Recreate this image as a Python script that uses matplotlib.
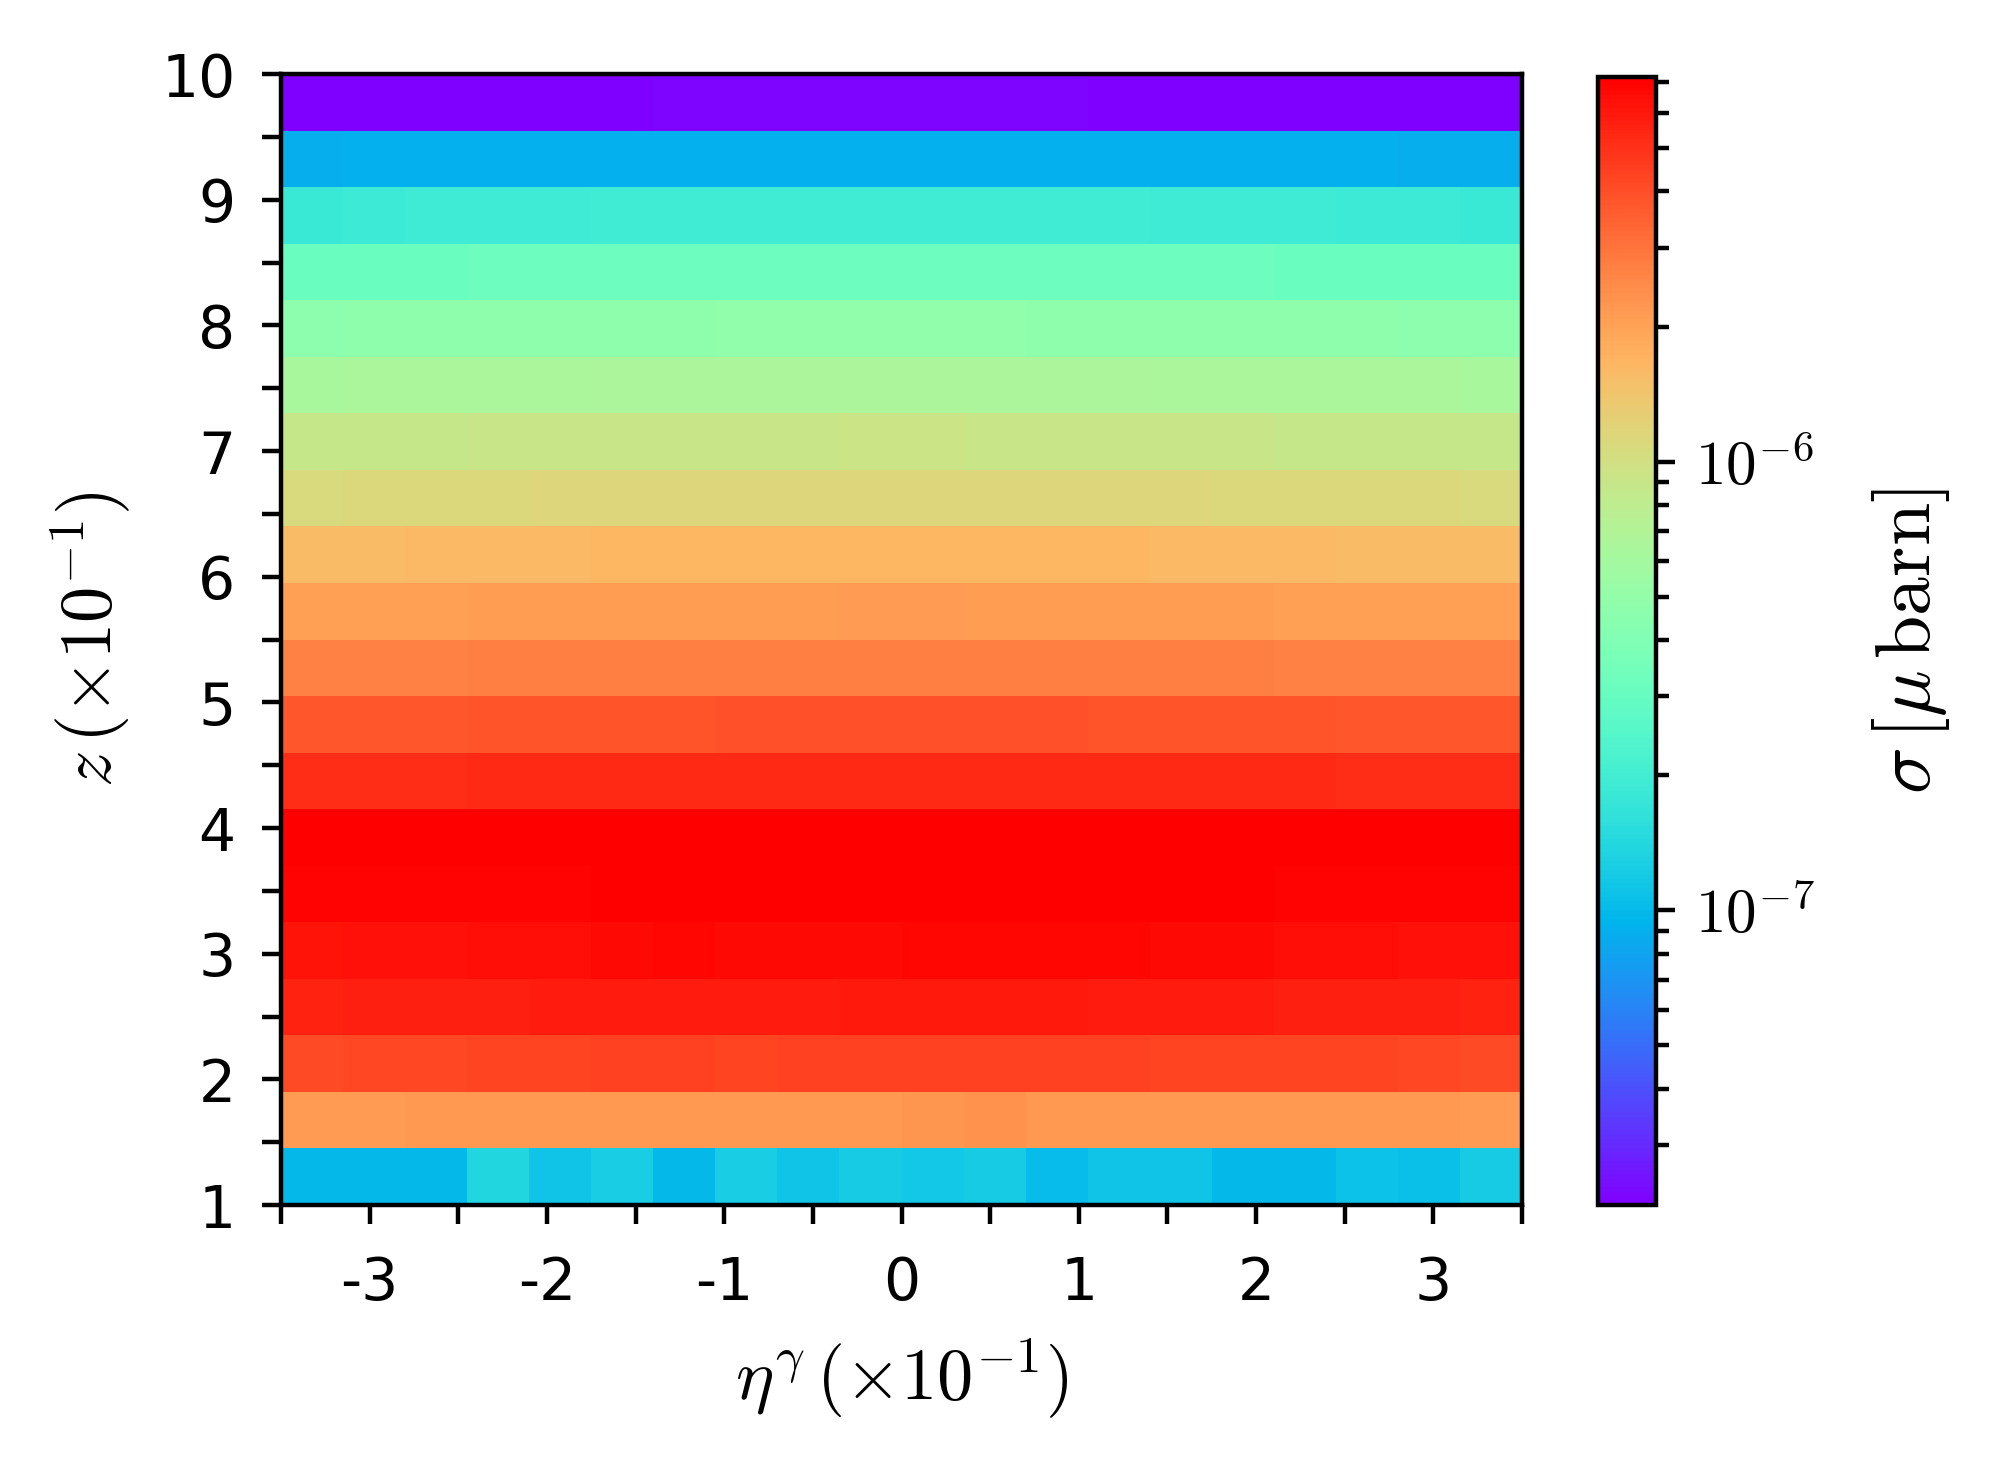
import numpy as np
import matplotlib
matplotlib.use('Agg')
import matplotlib.pyplot as plt
from matplotlib.colors import LogNorm
from matplotlib.ticker import NullFormatter

plt.rcParams['font.family'] = ['DejaVu Sans']
plt.rcParams['mathtext.fontset'] = 'cm'

# bin edges
eta_edges = [-3.5, -3.15, -2.8, -2.45, -2.1, -1.75, -1.4, -1.05, -0.7, -0.35, 0.0,
             0.35, 0.7, 1.05, 1.4, 1.75, 2.1, 2.45, 2.8, 3.15, 3.5]
z_edges = [1.0, 1.45, 1.9, 2.35, 2.8, 3.25, 3.7, 4.15, 4.6, 5.05, 5.5,
           5.95, 6.4, 6.85, 7.3, 7.75, 8.2, 8.65, 9.1, 9.55, 10.0]

# cross section per bin, in units of 1e-8 micro barn (rows: z from low to high)
sigma_rows = [
    [9.9, 9.9, 9.9, 13.8, 11.1, 12.5, 9.9, 12.5, 11.1, 12.2, 11.5, 12.2, 10.2, 11.1, 11.1, 9.8, 9.8, 10.8, 10.5, 12.2],
    [214, 217, 218, 219, 221, 222, 220, 219, 218, 221, 223, 232, 222, 220, 219, 220, 222, 221, 219, 214],
    [415, 420, 425, 428, 432, 440, 438, 436, 438, 440, 442, 445, 440, 438, 436, 434, 432, 428, 424, 418],
    [560, 565, 570, 574, 578, 582, 584, 585, 586, 588, 590, 591, 588, 584, 580, 578, 574, 570, 565, 560],
    [625, 630, 640, 648, 655, 670, 675, 672, 668, 670, 674, 680, 682, 676, 668, 660, 655, 648, 640, 630],
    [690, 695, 698, 700, 702, 705, 706, 707, 708, 709, 710, 712, 711, 708, 706, 704, 702, 700, 698, 694],
    [705, 708, 710, 711, 713, 714, 715, 716, 717, 718, 719, 720, 719, 717, 716, 714, 712, 710, 708, 705],
    [515, 520, 522, 525, 528, 530, 532, 534, 535, 536, 536, 535, 534, 532, 530, 528, 526, 523, 520, 516],
    [378, 380, 382, 384, 386, 388, 390, 391, 392, 392, 393, 392, 391, 390, 388, 386, 384, 382, 380, 378],
    [268, 270, 272, 273, 274, 275, 276, 277, 278, 278, 278, 277, 276, 275, 274, 273, 272, 271, 270, 268],
    [205, 206, 207, 208, 209, 210, 211, 212, 212, 213, 213, 212, 211, 210, 209, 208, 207, 206, 205, 204],
    [156, 158, 159, 160, 161, 162, 163, 164, 165, 165, 165, 164, 163, 162, 161, 160, 159, 158, 157, 156],
    [110, 111, 112, 112, 113, 113, 114, 114, 115, 115, 115, 114, 114, 113, 113, 112, 112, 111, 111, 110],
    [88, 89, 89.5, 90, 90.5, 91, 91, 91.5, 91.5, 92, 92, 91.5, 91, 91, 90.5, 90, 89.5, 89, 88.5, 88],
    [63.5, 64, 64.5, 65, 65, 65.5, 65.5, 66, 66, 66, 66, 66, 65.5, 65.5, 65, 65, 64.5, 64, 64, 63.5],
    [46.5, 46.8, 47.0, 47.2, 47.3, 47.5, 47.6, 47.7, 47.8, 47.8, 47.8, 47.7, 47.6, 47.5, 47.3, 47.2, 47.0, 46.8, 46.6, 46.5],
    [31.2, 31.4, 31.6, 31.8, 31.9, 32.0, 32.1, 32.2, 32.2, 32.3, 32.3, 32.2, 32.1, 32.0, 31.9, 31.8, 31.6, 31.5, 31.3, 31.2],
    [18.4, 18.6, 18.9, 19.1, 19.2, 19.3, 19.4, 19.5, 19.5, 19.5, 19.5, 19.5, 19.4, 19.3, 19.2, 19.1, 18.9, 18.7, 18.5, 18.3],
    [8.9, 8.95, 9.0, 9.0, 9.05, 9.05, 9.1, 9.1, 9.1, 9.1, 9.1, 9.1, 9.1, 9.05, 9.05, 9.0, 9.0, 8.95, 8.9, 8.9],
    [2.20, 2.21, 2.22, 2.23, 2.24, 2.25, 2.26, 2.27, 2.28, 2.28, 2.28, 2.27, 2.26, 2.25, 2.24, 2.23, 2.22, 2.21, 2.20, 2.20],
]
unit = 1e-8

eta_major = [-3, -2, -1, 0, 1, 2, 3]
eta_labels = ['-3', '-2', '-1', '0', '1', '2', '3']
eta_minor = [-3.5, -2.5, -1.5, -0.5, 0.5, 1.5, 2.5, 3.5]
z_major = [1, 2, 3, 4, 5, 6, 7, 8, 9, 10]
z_labels = ['1', '2', '3', '4', '5', '6', '7', '8', '9', '10']
z_minor = [1.5, 2.5, 3.5, 4.5, 5.5, 6.5, 7.5, 8.5, 9.5]
cbar_ticks = [1e-7, 1e-6]
cbar_labels = [r'$10^{-7}$', r'$10^{-6}$']

sigma = np.array(sigma_rows) * unit

fig = plt.figure(figsize=(5.0125, 3.67), dpi=400)
ax = fig.add_axes([281 / 2005, 1 - 1205 / 1468, 1241 / 2005, 1131 / 1468])
cax = fig.add_axes([1598 / 2005, 1 - 1205 / 1468, 58 / 2005, 1128 / 1468])

mesh = ax.pcolormesh(eta_edges, z_edges, sigma, cmap='rainbow',
                     norm=LogNorm(vmin=sigma.min(), vmax=sigma.max()))

ax.set_xticks(eta_major)
ax.set_xticklabels(eta_labels)
ax.set_xticks(eta_minor, minor=True)
ax.set_yticks(z_major)
ax.set_yticklabels(z_labels)
ax.set_yticks(z_minor, minor=True)
ax.tick_params(which='both', length=3.5, width=0.8, labelsize=10.5)
ax.tick_params(axis='x', which='major', pad=5.5)
ax.tick_params(axis='y', which='major', pad=4.7)
ax.set_xlim(-3.5, 3.5)
ax.set_ylim(1, 10)

ax.set_xlabel(r'$\eta^{\gamma}\,(\times10^{-1})$', fontsize=13, labelpad=4.5)
ax.set_ylabel(r'$z\,(\times10^{-1})$', fontsize=13, labelpad=5)

cbar = fig.colorbar(mesh, cax=cax)
cbar.set_ticks(cbar_ticks)
cbar.set_ticklabels(cbar_labels)
cbar.ax.yaxis.set_minor_formatter(NullFormatter())
cbar.ax.tick_params(which='major', length=3.5, width=0.8, labelsize=11)
cbar.ax.tick_params(which='minor', length=2.4, width=0.8)
cbar.set_label(r'$\sigma\,[\mu\,\mathrm{barn}]$', fontsize=14, labelpad=10)

fig.savefig('out.png', dpi=400)
